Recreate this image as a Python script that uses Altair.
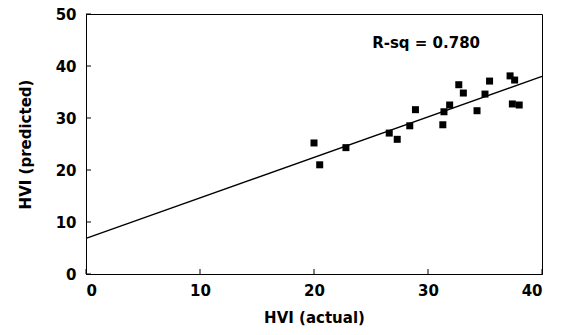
import altair as alt
import pandas as pd

# Scatter data
hvi_actual = [20.0, 20.5, 22.8, 26.6, 27.3, 28.4, 28.9, 31.3, 31.4, 31.9,
              32.7, 33.1, 34.3, 35.0, 35.4, 37.2, 37.6, 37.4, 38.0]
hvi_predicted = [25.2, 21.0, 24.3, 27.1, 25.9, 28.5, 31.6, 28.7, 31.2, 32.5,
                 36.4, 34.8, 31.4, 34.6, 37.1, 38.1, 37.3, 32.7, 32.5]

# Fitted line end points
fit_x = [0, 40]
fit_y = [6.85, 38.0]

x_ticks = [0, 10, 20, 30, 40]
y_ticks = [0, 10, 20, 30, 40, 50]

rsq_label = "R-sq = 0.780"
rsq_pos = (25.1, 43.4)

FONT = "DejaVu Sans"

pts = pd.DataFrame({"x": hvi_actual, "y": hvi_predicted})
fit = pd.DataFrame({"x": fit_x, "y": fit_y})

W, H = 456, 260

xs = alt.Scale(domain=[0, 40], nice=False)
ys = alt.Scale(domain=[0, 50], nice=False)

x_axis = alt.Axis(values=x_ticks, title="HVI (actual)", ticks=False, tickSize=0,
                  grid=False, labelPadding=9, titlePadding=12)
y_axis = alt.Axis(values=y_ticks, title="HVI (predicted)", ticks=False, tickSize=0,
                  grid=False, labelPadding=10, titlePadding=22)

points = alt.Chart(pts).mark_square(size=49, color="black", opacity=1).encode(
    x=alt.X("x:Q", scale=xs, axis=x_axis),
    y=alt.Y("y:Q", scale=ys, axis=y_axis),
)

line = alt.Chart(fit).mark_line(color="black", strokeWidth=1.3).encode(
    x=alt.X("x:Q", scale=xs),
    y=alt.Y("y:Q", scale=ys),
)

txt = alt.Chart(pd.DataFrame({"x": [rsq_pos[0]], "y": [rsq_pos[1]], "t": [rsq_label]})).mark_text(
    align="left", baseline="alphabetic", font=FONT, fontWeight="bold", fontSize=15, color="black"
).encode(
    x=alt.X("x:Q", scale=xs),
    y=alt.Y("y:Q", scale=ys),
    text="t:N",
)

xt = alt.Chart(pd.DataFrame({"v": x_ticks})).mark_rule(color="black", strokeWidth=1).encode(
    x=alt.X("v:Q", scale=xs),
    y=alt.value(H),
    y2=alt.value(H - 5),
)
yt = alt.Chart(pd.DataFrame({"v": y_ticks})).mark_rule(color="black", strokeWidth=1).encode(
    y=alt.Y("v:Q", scale=ys),
    x=alt.value(0),
    x2=alt.value(5),
)

chart = alt.layer(xt, yt, line, points, txt).properties(
    width=W, height=H,
    autosize=alt.AutoSizeParams(type="none"),
    padding={"left": 86, "top": 14, "right": 19, "bottom": 61},
    background="white",
).configure_view(
    stroke="black", strokeWidth=1
).configure_axis(
    domainColor="black", domainWidth=1,
    labelFont=FONT, labelFontWeight="bold", labelFontSize=15, labelColor="black",
    titleFont=FONT, titleFontWeight="bold", titleFontSize=15, titleColor="black",
)

chart.save("out.html", embed_options={"renderer": "svg", "actions": False})
